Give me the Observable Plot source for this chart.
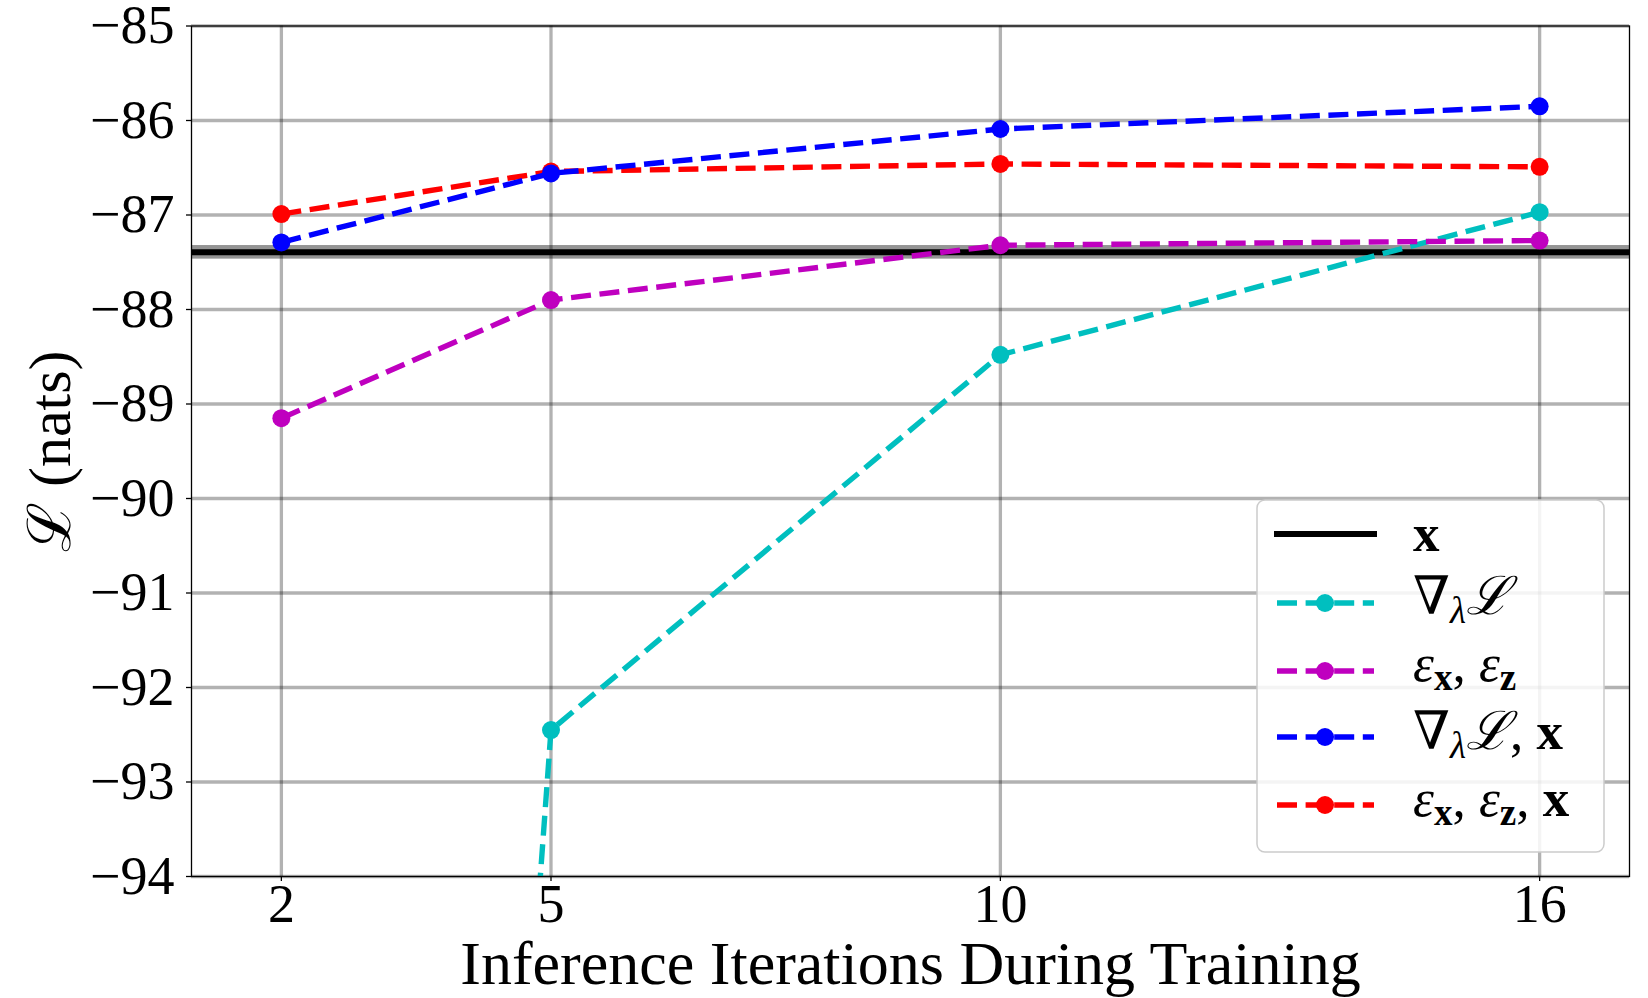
<!DOCTYPE html>
<html><head><meta charset="utf-8">
<script src="https://cdn.jsdelivr.net/npm/d3@7"></script>
<script src="https://cdn.jsdelivr.net/npm/@observablehq/plot@0.6"></script>
<style>html,body{margin:0;padding:0;background:#fff;}</style>
</head><body><div id="chart"></div>
<script>
// ---- data ----
const iterations = [2, 5, 10, 16];
const gradL   = [-131.6, -92.45, -88.48, -86.97];   // ∇λL (first point off-chart)
const epsXZ   = [-89.15, -87.90, -87.32, -87.27];   // εx, εz
const gradLX  = [-87.29, -86.56, -86.09, -85.85];   // ∇λL, x
const epsXZX  = [-86.99, -86.54, -86.46, -86.49];   // εx, εz, x
const xOnlyMean = -87.395;                            // x (horizontal reference)
const xOnlyHalfBand = 0.072;
const xTicks = [2, 5, 10, 16];
const yTicks = [-94, -93, -92, -91, -90, -89, -88, -87, -86, -85];
const xLabel = "Inference Iterations During Training";
const yLabel = "ℒ (nats)";

const colors = {gradL: "#00bfbf", epsXZ: "#bf00bf", gradLX: "#0000ff", epsXZX: "#ff0000"};
const drawOrder = [["gradL", gradL], ["epsXZ", epsXZ], ["epsXZX", epsXZX], ["gradLX", gradLX]];

const dash = "20 8.6";
const seriesMarks = drawOrder.flatMap(([key, vals]) => {
  const rows = iterations.map((it, i) => ({x: it, y: vals[i]}));
  return [
    Plot.line(rows, {x: "x", y: "y", stroke: colors[key], strokeWidth: 5.4, strokeDasharray: dash, strokeLinecap: "butt", strokeLinejoin: "round", clip: true}),
    Plot.dot(rows, {x: "x", y: "y", r: 9, fill: colors[key], stroke: "none", clip: true})
  ];
});

const font = "'Liberation Serif', 'DejaVu Serif', serif";
const svg = Plot.plot({
  width: 1648, height: 998,
  marginLeft: 191, marginRight: 19, marginTop: 25.5, marginBottom: 122,
  x: {domain: [1, 17]},
  y: {domain: [-94, -85]},
  style: {fontFamily: font, background: "white", color: "black", overflow: "visible"},
  marks: [
    Plot.gridX({ticks: xTicks, stroke: "#000", strokeOpacity: 0.3, strokeWidth: 3.3}),
    Plot.gridY({ticks: yTicks, stroke: "#000", strokeOpacity: 0.3, strokeWidth: 3.3}),
    Plot.rect([{lo: xOnlyMean - xOnlyHalfBand, hi: xOnlyMean + xOnlyHalfBand}], {y1: "lo", y2: "hi", fill: "#000", fillOpacity: 0.42}),
    Plot.ruleY([xOnlyMean], {stroke: "#000", strokeWidth: 6}),
    ...seriesMarks,
    Plot.frame({stroke: "#000", strokeWidth: 1.3}),
    Plot.axisX({ticks: xTicks, tickSize: 5, tickPadding: 2, fontSize: 54, label: null, strokeWidth: 1.3}),
    Plot.axisY({ticks: yTicks, tickSize: 5, tickPadding: 12, fontSize: 54, label: null, strokeWidth: 1.3}),
    Plot.text([yLabel], {frameAnchor: "left", dx: -141, rotate: -90, text: d => d, fontSize: 60, textAnchor: "middle", lineAnchor: "middle"}),
    Plot.text([xLabel], {frameAnchor: "bottom", dy: 107, text: d => d, fontSize: 62, lineAnchor: "bottom"})
  ]
});
document.getElementById("chart").appendChild(svg);

// ---- legend ----
const legendItems = [
  {key: "x", color: "#000", solid: true},
  {key: "gradL", color: colors.gradL},
  {key: "epsXZ", color: colors.epsXZ},
  {key: "gradLX", color: colors.gradLX},
  {key: "epsXZX", color: colors.epsXZX}
];
const rowY = [534, 603, 671, 737, 805];
const baseY = [551, 614, 681, 749, 816];
const g = d3.select(svg).append("g").attr("font-family", font).attr("text-anchor", "start");
g.append("rect").attr("x", 1257).attr("y", 500).attr("width", 347).attr("height", 352)
  .attr("rx", 8).attr("fill", "white").attr("fill-opacity", 0.85).attr("stroke", "#cccccc").attr("stroke-width", 1.5);
legendItems.forEach((it, i) => {
  const y = rowY[i];
  const ln = g.append("line").attr("x1", 1277).attr("x2", 1374).attr("y1", y).attr("y2", y).attr("stroke", it.color);
  if (it.solid) ln.attr("stroke-width", 6).attr("stroke-linecap", "square");
  else {
    ln.attr("stroke-width", 5.4).attr("stroke-dasharray", dash).attr("stroke-linecap", "butt");
    g.append("circle").attr("cx", 1325).attr("cy", y).attr("r", 9).attr("fill", it.color);
  }
  const t = g.append("text").attr("x", 1413).attr("y", baseY[i]).attr("font-size", 53).attr("fill", "#000").attr("text-anchor", "start");
  const sub = (txt) => t.append("tspan").attr("dy", 9).attr("font-size", 37).attr("font-weight", "bold").text(txt);
  const back = (txt) => t.append("tspan").attr("dy", -9).text(txt);
  if (it.key === "x") {
    t.append("tspan").attr("font-weight", "bold").text("x");
  } else if (it.key === "gradL" || it.key === "gradLX") {
    t.append("tspan").text("∇");
    t.append("tspan").attr("dy", 9).attr("font-size", 37).attr("font-style", "italic").text("λ");
    t.append("tspan").attr("dy", -9).attr("font-style", "italic").text("ℒ");
    if (it.key === "gradLX") { t.append("tspan").text(", "); t.append("tspan").attr("font-weight", "bold").text("x"); }
  } else {
    t.append("tspan").attr("font-style", "italic").text("ε");
    sub("x");
    back(", ");
    t.append("tspan").attr("font-style", "italic").text("ε");
    sub("z");
    if (it.key === "epsXZX") { back(", "); t.append("tspan").attr("font-weight", "bold").text("x"); }
  }
});
</script>
</body></html>
